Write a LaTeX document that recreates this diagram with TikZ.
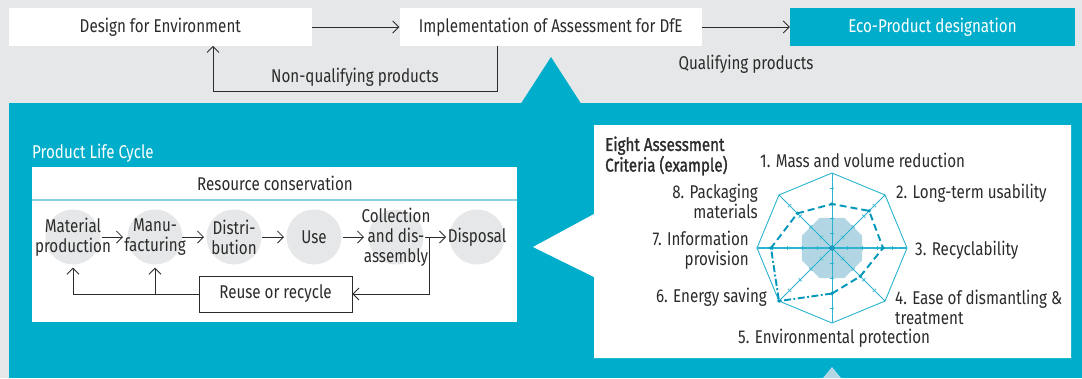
\documentclass[tikz,border=0pt]{standalone}
\usepackage{fontspec}
\setmainfont[FakeStretch=0.82]{Fira Sans}
\newfontfamily\semib[FakeStretch=0.82,FakeBold=1.3]{Fira Sans}
\usetikzlibrary{arrows.meta,calc}
\definecolor{teal0}{HTML}{00ADCA}
\definecolor{bggray}{HTML}{E6E7E8}
\definecolor{txt}{HTML}{2B2B2B}
\definecolor{lineblue}{HTML}{8ACFE0}
\definecolor{radar}{HTML}{2AB4CF}
\definecolor{radarD}{HTML}{0097BA}
\definecolor{shadeblue}{HTML}{B3D6E5}
\begin{document}
\begin{tikzpicture}[x=1pt,y=-1pt,
  every node/.style={font=\fontsize{18.5}{20}\selectfont, text=txt, inner sep=0pt},
  arr/.style={draw=txt, line width=0.8pt, -{Straight Barb[length=6pt,width=12pt]}},
  topbox/.style={fill=white, minimum height=37.4pt},
  stage/.style={circle, fill=bggray, minimum size=55pt},
  stagetext/.style={align=center},
  lbl/.style={align=left},
  radarline/.style={draw=radar, line width=0.9pt},
  score/.style={draw=radarD, line width=1.9pt, dash pattern=on 7pt off 4pt},
  scoredd/.style={draw=radarD, line width=1.9pt, dash pattern=on 7pt off 2.5pt on 1.8pt off 2.5pt}
]
\useasboundingbox (0,0) rectangle (1082,378);
\fill[bggray] (0,0) rectangle (1082,378);

% ---------- top row ----------
\node[topbox, minimum width=303.4pt] (dfe) at (160.3,27) {Design for Environment};
\node[topbox, minimum width=302.5pt] (impl) at (550.75,27) {Implementation of Assessment for DfE};
\node[topbox, fill=teal0, text=white, minimum width=285pt] (eco) at (932.5,27) {Eco-Product designation};
\draw[arr] (dfe.east) -- (impl.west);
\draw[arr] (impl.east) -- (eco.west);
\coordinate (nqR) at (497,91.5);
\coordinate (nqL) at (213,91.5);
\draw[arr] (impl.south -| nqR) -- (nqR) -- (nqL) -- (dfe.south -| nqL);
\node (nqlabel) at (355,77) {Non-qualifying products};
\node (qlabel) at (746,64) {Qualifying products};

% ---------- teal band ----------
\fill[teal0] (9,103) rectangle (1082,378);
\fill[teal0] (521,103.5) -- (551,57) -- (581,103.5) -- cycle;

% ---------- product life cycle panel ----------
\node[anchor=west, text=white] (plc) at (32,153) {Product Life Cycle};
\fill[white] (32,167) rectangle (517,322);
\draw[lineblue, line width=1.6pt] (32,200) -- (517,200);
\node (rc) at (275,183) {Resource conservation};

\foreach \i/\x in {1/73,2/155,3/234,4/314,5/396,6/477}{
  \node[stage] (c\i) at (\x,237) {};
}
\node[stagetext] (t1) at (73,237) {Material\\production};
\node[stagetext] (t2) at (155,237) {Manu-\\facturing};
\node[stagetext] (t3) at (234,237) {Distri-\\bution};
\node[stagetext] (t4) at (314,237) {Use};
\node[stagetext] (t5) at (396,237) {Collection\\and dis-\\assembly};
\node[stagetext] (t6) at (477,237) {Disposal};

\draw[arr] ($(c1.center)+(29,0)$) -- ($(c2.center)+(-32,0)$);
\draw[arr] ($(c2.center)+(27,0)$) -- ($(c3.center)+(-30,0)$);
\draw[arr] ($(c3.center)+(28,0)$) -- ($(c4.center)+(-30,0)$);
\draw[arr] ($(c4.center)+(29,0)$) -- ($(c5.center)+(-32,0)$);
\coordinate (junc) at ($(c5.center)+(33,0)$);
\draw[arr] ($(c5.center)+(29,0)$) -- ($(c6.center)+(-31,0)$);

\node[draw=txt, line width=0.8pt, minimum width=153pt, minimum height=36pt] (reuse) at (275.5,294) {Reuse or recycle};
\draw[arr] (junc) |- (reuse.east);
\draw[arr] (reuse.west) -| ($(c1.south)+(0,3)$);
\coordinate (br) at (reuse.west -| c2.south);
\draw[arr] (br) -- ($(c2.south)+(0,3)$);

% ---------- assessment panel ----------
\fill[white] (594,125) -- (1071,125) -- (1071,358) -- (594,358) -- (594,277) -- (533,247) -- (594,214) -- cycle;
\fill[shadeblue] (823,378) -- (832,367) -- (841,378) -- cycle;

\node[lbl, anchor=west, font=\fontsize{18.5}{18}\semib] (title) at (605,156) {Eight Assessment\\Criteria (example)};

\begin{scope}[shift={(832,248)}, y=1pt]
  \fill[shadeblue] (22.5:32.5) -- (67.5:32.5) -- (112.5:32.5) -- (157.5:32.5) -- (202.5:32.5) -- (247.5:32.5) -- (292.5:32.5) -- (337.5:32.5) -- cycle;
  \draw[radarline] (90:75) -- (45:75) -- (0:75) -- (-45:75) -- (-90:75) -- (-135:75) -- (180:75) -- (135:75) -- cycle;
  \foreach \a in {45,90,135}{ \draw[radarline, line width=0.8pt] (\a:75) -- (\a+180:75); }
  \draw[radarline, line width=1.6pt] (0:75) -- (180:75);
  \foreach \a in {0,45,...,315}{
    \foreach \r in {15,30,45,60}{
      \draw[radarline, line width=0.6pt, rotate=\a] (\r,-2.2) -- (\r,2.2);
    }
  }
  \coordinate (p1) at (90:44);
  \coordinate (p2) at (45:52.5);
  \coordinate (p3) at (0:51);
  \coordinate (p4) at (-45:40);
  \coordinate (p5) at (-90:45.5);
  \coordinate (p6) at (-135:75);
  \coordinate (p7) at (180:61);
  \coordinate (p8) at (135:49);
  \draw[score] (p5) -- (p4) -- (p3) -- (p2) -- (p1) -- (p8) -- (p7);
  \draw[scoredd] (p5) -- (p6) -- (p7);
  \foreach \p in {p1,p2,p3,p4,p5,p6,p7,p8}{ \fill[radarD] (\p) circle (1.8pt); }
  \fill[radarD] (0,0) circle (2.6pt);
\end{scope}

\node[anchor=west] (k1) at (760,160) {1. Mass and volume reduction};
\node[anchor=west] (k2) at (896,193) {2. Long-term usability};
\node[anchor=west] (k3) at (915,250) {3. Recyclability};
\node[lbl, anchor=west] (k4) at (895,307) {4. Ease of dismantling \&\\treatment};
\node[anchor=west] (k5) at (738,338) {5. Environmental protection};
\node[anchor=east] (k6) at (767,297) {6. Energy saving};
\node[align=right, anchor=east] (k7) at (749,250) {7. Information\\provision};
\node[align=right, anchor=east] (k8) at (758,201) {8. Packaging\\materials};
\end{tikzpicture}
\end{document}
